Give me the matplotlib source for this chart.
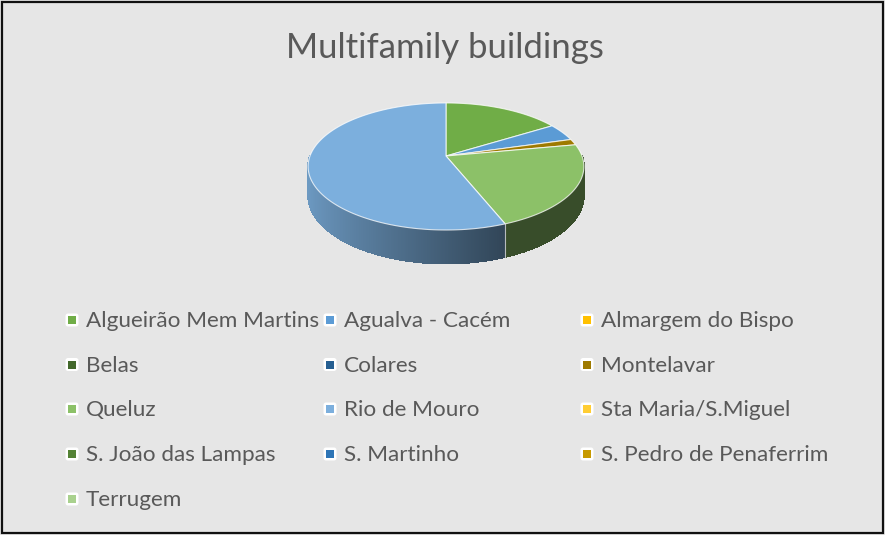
import numpy as np
import matplotlib
matplotlib.use("Agg")
import matplotlib.pyplot as plt
from matplotlib.patches import Polygon, FancyBboxPatch, Rectangle
from matplotlib.collections import PolyCollection
from matplotlib.colors import to_rgb

# ---- data -------------------------------------------------------------
categories = ["Algueirão Mem Martins", "Agualva - Cacém", "Almargem do Bispo",
              "Belas", "Colares", "Montelavar", "Queluz", "Rio de Mouro",
              "Sta Maria/S.Miguel", "S. João das Lampas", "S. Martinho",
              "S. Pedro de Penaferrim", "Terrugem"]
shares = [16.1, 4.4, 0.0, 0.0, 0.0, 1.5, 22.0, 56.0, 0.0, 0.0, 0.0, 0.0, 0.0]
colors = ["#70AD47", "#5B9BD5", "#FFC000", "#43682B", "#255E91", "#9E7A00",
          "#8CC168", "#7CAFDD", "#FFCD33", "#548235", "#2E75B6", "#C79A00",
          "#A9D18E"]
title = "Multifamily buildings"

# ---- canvas (pixel coordinates) ---------------------------------------
W, H = 885, 535
fig = plt.figure(figsize=(W / 100, H / 100), dpi=100)
fig.patch.set_facecolor("#E6E6E6")
ax = fig.add_axes([0, 0, 1, 1])
ax.set_xlim(0, W)
ax.set_ylim(H, 0)
ax.axis("off")

text_color = "#595959"
font = ["Lato", "DejaVu Sans"]

ax.text(445, 48, title, ha="center", va="center", fontsize=25,
        color=text_color, family=font)

# ---- 3-D pie with a little perspective --------------------------------
cx, cy = 446, 156          # pivot of the pie on screen
a, b, k = 136, 61.8, 0.165  # half-width, half-depth, perspective strength
depth0 = 28.0               # thickness of the disc


def project(phi_deg):
    phi = np.radians(phi_deg)
    u = np.sin(phi)
    v = -np.cos(phi)
    s = 1.0 / (1.0 - k * v)
    return cx + a * u * s, cy + b * v * s, depth0 * s, u


def shade(rgb, f):
    return tuple(np.clip(np.array(rgb) * f, 0, 1))


total = sum(shares)
bounds = np.concatenate([[0.0], np.cumsum(shares) / total * 360.0])

# outer wall of the disc (only the front half is visible)
for i, val in enumerate(shares):
    if val <= 0:
        continue
    lo, hi = max(bounds[i], 90.0), min(bounds[i + 1], 270.0)
    if hi <= lo:
        continue
    base = to_rgb(colors[i])
    steps = np.linspace(lo, hi, max(2, int((hi - lo) * 3) + 1))
    quads, cols = [], []
    for p1, p2 in zip(steps[:-1], steps[1:]):
        x1, y1, d1, u1 = project(p1)
        x2, y2, d2, u2 = project(p2)
        um = 0.5 * (u1 + u2)
        f = np.clip(0.88 - 0.356 * (um + 1.0), 0.40, 0.88)
        quads.append([(x1, y1), (x2, y2), (x2, y2 + d2), (x1, y1 + d1)])
        cols.append(shade(base, f))
    ax.add_collection(PolyCollection(quads, facecolors=cols, edgecolors=cols,
                                     linewidths=0.6, antialiaseds=False))

# seams between slices on the wall
for bnd in bounds[1:-1]:
    if 90.0 < bnd < 270.0:
        x, y, d, _ = project(bnd)
        ax.plot([x, x], [y, y + d], color="#D9D9D9", lw=0.8, alpha=0.8)

# top faces
for i, val in enumerate(shares):
    if val <= 0:
        continue
    arc = np.linspace(bounds[i], bounds[i + 1], max(2, int(val * 4) + 2))
    pts = [(cx, cy)] + [project(p)[:2] for p in arc]
    ax.add_patch(Polygon(pts, closed=True, facecolor=colors[i],
                         edgecolor=(1, 1, 1, 0.75), lw=0.8, joinstyle="round"))

# ---- legend -------------------------------------------------------------
col_marker_x = [72, 330, 587]
row_y = [320, 364.5, 409, 454, 499]
for i, name in enumerate(categories):
    r, c = divmod(i, 3)
    mx, my = col_marker_x[c], row_y[r]
    ax.add_patch(FancyBboxPatch((mx - 5.5, my - 5.5), 11, 11,
                                boxstyle="round,pad=1.0,rounding_size=2.5",
                                facecolor="white", edgecolor="none"))
    ax.add_patch(Rectangle((mx - 4, my - 4), 8, 8, facecolor=colors[i],
                           edgecolor="none"))
    ax.text(mx + 14, my + 1, name, ha="left", va="center", fontsize=16.2,
            color=text_color, family=font)

# ---- outer frame --------------------------------------------------------
fig.patches.append(Rectangle((0.002, 0.003), 0.996, 0.994,
                             transform=fig.transFigure, fill=False,
                             edgecolor="#111111", lw=1.6))

fig.savefig("out.png", dpi=100, facecolor=fig.get_facecolor())
